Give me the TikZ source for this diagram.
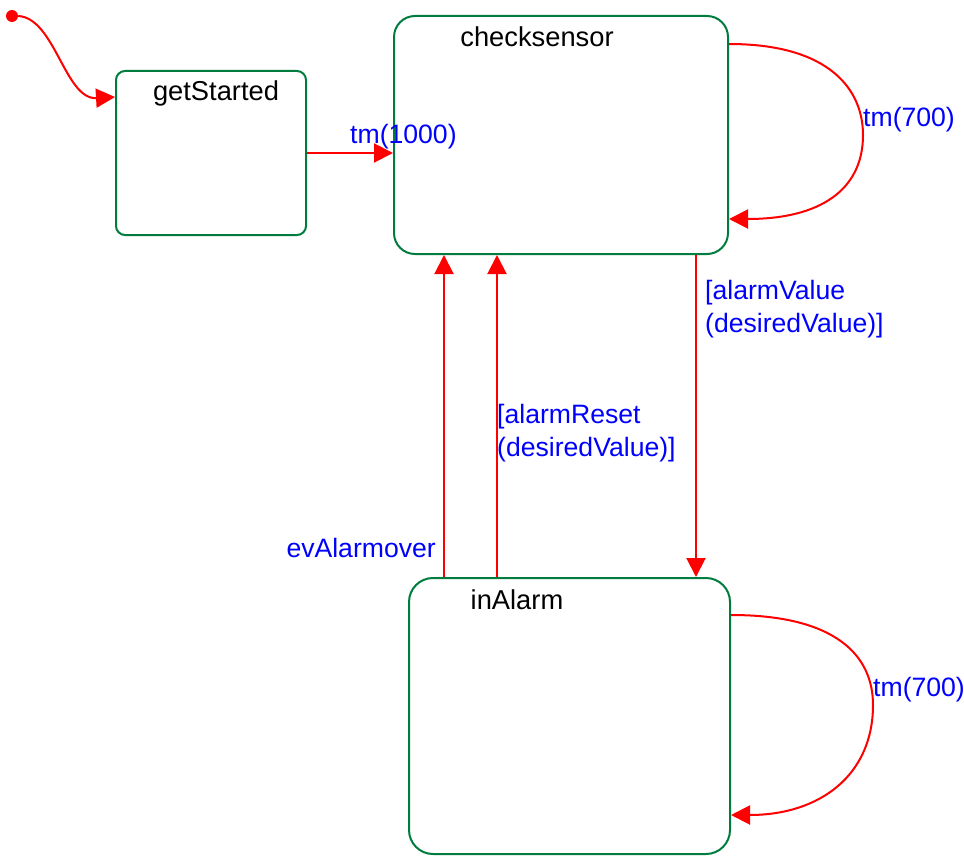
\documentclass[tikz,border=0pt]{standalone}
\usepackage{fontspec}
\setmainfont{Liberation Sans}
\usetikzlibrary{arrows.meta}
\definecolor{stategreen}{RGB}{0,125,62}
\definecolor{trred}{RGB}{255,0,0}
\definecolor{trblue}{RGB}{0,0,255}
\begin{document}
\begin{tikzpicture}[x=1pt,y=-1pt,
  state/.style={draw=stategreen,line width=2pt,rectangle,inner sep=0pt},
  statename/.style={text=black,font=\fontsize{27.3}{32}\selectfont,inner sep=0pt},
  trans/.style={draw=trred,line width=2pt,-{Triangle[length=19pt,width=19pt]}},
  guard/.style={text=trblue,font=\fontsize{26.6}{33.5}\selectfont,inner sep=0pt,align=left}]
\useasboundingbox (0,0) rectangle (964,856);

% states
\node[state,rounded corners=9pt,minimum width=190pt,minimum height=164pt,anchor=north west] (gs) at (115,70) {};
\node[state,rounded corners=21pt,minimum width=334pt,minimum height=238pt,anchor=north west] (cs) at (393,15) {};
\node[state,rounded corners=24pt,minimum width=321pt,minimum height=276pt,anchor=north west] (ia) at (408,577) {};

\node[statename] (gsName) at (216,93) {getStarted};
\node[statename] (csName) at (537,37) {checksensor};
\node[statename] (iaName) at (517,600) {inAlarm};

% initial pseudostate
\node[circle,fill=trred,inner sep=0pt,minimum size=12pt] (init) at (12,16) {};
\draw[trans] (init.east) .. controls (55,18) and (65,100) .. (gs.west |- 0,97);

% getStarted -> checksensor
\draw[trans] (gs.east |- 0,153) -- (cs.west |- 0,153);
\node[guard,anchor=west] (lTm1000) at (350,137) {tm(1000)};

% checksensor self loop
\draw[trans] (cs.east |- 0,44) .. controls (830,44) and (863,90) .. (863,135)
  .. controls (863,190) and (820,219) .. (cs.east |- 0,219);
\node[guard,anchor=west] (lTm700a) at (863,120) {tm(700)};

% checksensor -> inAlarm
\draw[trans] (cs.south -| 696,0) -- (ia.north -| 696,0);
\node[guard,anchor=north west] (lValue) at (705,280) {[alarmValue\\(desiredValue)]};

% inAlarm -> checksensor
\draw[trans] (ia.north -| 444,0) -- (cs.south -| 444,0);
\node[guard,anchor=east] (lOver) at (436,548) {evAlarmover};
\draw[trans] (ia.north -| 497,0) -- (cs.south -| 497,0);
\node[guard,anchor=north west] (lReset) at (497,404) {[alarmReset\\(desiredValue)]};

% inAlarm self loop
\draw[trans] (ia.east |- 0,615) .. controls (835,615) and (873,655) .. (873,705)
  .. controls (873,775) and (820,815) .. (ia.east |- 0,815);
\node[guard,anchor=west] (lTm700b) at (873,690) {tm(700)};
\end{tikzpicture}
\end{document}
